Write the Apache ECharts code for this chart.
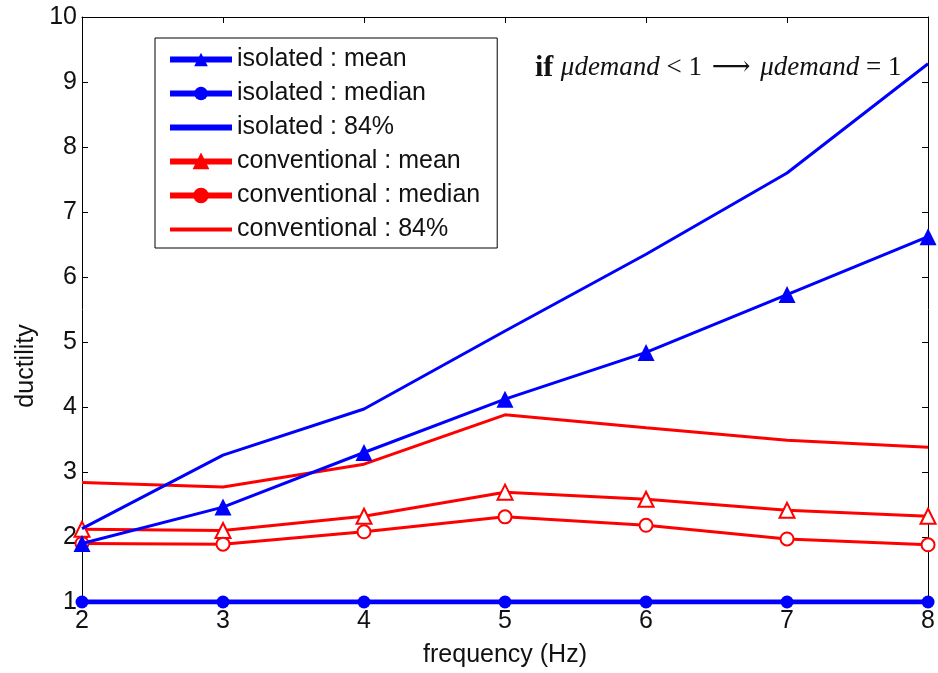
<!DOCTYPE html>
<html>
<head>
<meta charset="utf-8">
<script src="https://cdn.jsdelivr.net/npm/echarts@6/dist/echarts.min.js"></script>
<style>html,body{margin:0;padding:0;background:#fff;}#c{width:938px;height:673px;}</style>
</head>
<body>
<div id="c"></div>
<script>
const frequencies = [2, 3, 4, 5, 6, 7, 8];
const isolatedMean = [1.9, 2.46, 3.3, 4.12, 4.84, 5.73, 6.62];
const isolatedMedian = [1, 1, 1, 1, 1, 1, 1];
const isolated84 = [2.13, 3.26, 3.97, 5.17, 6.35, 7.6, 9.28];
const conventionalMean = [2.12, 2.1, 2.32, 2.69, 2.58, 2.41, 2.32];
const conventionalMedian = [1.9, 1.89, 2.08, 2.31, 2.18, 1.97, 1.88];
const conventional84 = [2.84, 2.77, 3.12, 3.88, 3.68, 3.49, 3.38];
const xTicks = [2, 3, 4, 5, 6, 7, 8];
const yTicks = [1, 2, 3, 4, 5, 6, 7, 8, 9, 10];
const seriesNames = ['isolated : mean', 'isolated : median', 'isolated : 84%',
  'conventional : mean', 'conventional : median', 'conventional : 84%'];

const pairs = vals => frequencies.map((f, i) => [f, vals[i]]);
const BLUE = '#0000ff', RED = '#ff0000';
const FONT = 'Liberation Sans, Arial, sans-serif';
const FS = 25;
const TRANSPARENT = 'rgba(0,0,0,0)';

const chart = echarts.init(document.getElementById('c'), null, {renderer: 'canvas'});

const axisCommon = {
  type: 'value', min: xTicks[0], max: xTicks[xTicks.length - 1], interval: 1,
  splitLine: {show: false},
  axisLine: {show: true, lineStyle: {color: '#000', width: 1}},
  axisTick: {show: true, inside: true, length: 6, lineStyle: {color: '#000'}}
};
const yCommon = {
  type: 'value', min: yTicks[0], max: yTicks[yTicks.length - 1], interval: 1,
  splitLine: {show: false},
  axisLine: {show: true, lineStyle: {color: '#000', width: 1}},
  axisTick: {show: true, inside: true, length: 6, lineStyle: {color: '#000'}}
};

chart.setOption({
  animation: false,
  backgroundColor: '#fff',
  grid: {left: 82, right: 8, top: 17, bottom: 68, containLabel: false},
  xAxis: [
    Object.assign({}, axisCommon, {
      position: 'bottom',
      name: 'frequency (Hz)', nameLocation: 'middle', nameGap: 41,
      nameTextStyle: {fontFamily: FONT, fontSize: FS, color: '#111'},
      axisLabel: {fontFamily: FONT, fontSize: FS, color: '#111', margin: 7}
    }),
    Object.assign({}, axisCommon, {position: 'top', axisLabel: {show: false}})
  ],
  yAxis: [
    Object.assign({}, yCommon, {
      position: 'left',
      axisLabel: {fontFamily: FONT, fontSize: FS, color: '#111', margin: 5}
    }),
    Object.assign({}, yCommon, {position: 'right', axisLabel: {show: false}})
  ],
  legend: {
    left: 155, top: 38, orient: 'vertical',
    selectedMode: false,
    backgroundColor: '#fff', borderColor: '#000', borderWidth: 1,
    padding: [9, 17, 6, 12],
    itemWidth: 62, itemHeight: 17, itemGap: 9,
    textStyle: {fontFamily: FONT, fontSize: FS, color: '#111'},
    data: [
      {name: seriesNames[0], lineStyle: {width: 6}},
      {name: seriesNames[1], lineStyle: {width: 6}},
      {name: seriesNames[2], lineStyle: {width: 6}, itemStyle: {color: TRANSPARENT, borderColor: TRANSPARENT, borderWidth: 0}},
      {name: seriesNames[3], lineStyle: {width: 6}, itemStyle: {color: RED}},
      {name: seriesNames[4], lineStyle: {width: 6}, itemStyle: {color: RED}},
      {name: seriesNames[5], lineStyle: {width: 4}, itemStyle: {color: TRANSPARENT, borderColor: TRANSPARENT, borderWidth: 0}}
    ]
  },
  graphic: [
    {
      type: 'text', left: 535, top: 53,
      style: {
        text: '{b|if }{i|μdemand}{n| < 1 }{a|⟶}{n| }{i|μdemand}{n| = 1}',
        rich: {
          b: {fontFamily: 'Liberation Serif, serif', fontWeight: 'bold', fontSize: 30, fill: '#111'},
          i: {fontFamily: 'Liberation Serif, serif', fontStyle: 'italic', fontSize: 27, fill: '#111'},
          n: {fontFamily: 'Liberation Serif, serif', fontSize: 27, fill: '#111'},
          a: {fontFamily: 'DejaVu Serif, serif', fontSize: 27, fill: '#111', padding: [0, 3, 0, 3]}
        }
      }
    },
    {
      type: 'text', x: 26, y: 366, rotation: Math.PI / 2,
      style: {text: 'ductility', fontFamily: FONT, fontSize: FS, fill: '#111', align: 'center', verticalAlign: 'middle'}
    }
  ],
  series: [
    {
      name: seriesNames[0], type: 'line', data: pairs(isolatedMean),
      symbol: 'triangle', symbolSize: 17,
      lineStyle: {color: BLUE, width: 3}, itemStyle: {color: BLUE}, z: 4
    },
    {
      name: seriesNames[1], type: 'line', data: pairs(isolatedMedian),
      symbol: 'circle', symbolSize: 13,
      lineStyle: {color: BLUE, width: 5}, itemStyle: {color: BLUE}, z: 4
    },
    {
      name: seriesNames[2], type: 'line', data: pairs(isolated84),
      symbol: 'circle', showSymbol: false,
      lineStyle: {color: BLUE, width: 3}, itemStyle: {color: BLUE}, z: 4
    },
    {
      name: seriesNames[3], type: 'line', data: pairs(conventionalMean),
      symbol: 'triangle', symbolSize: 15,
      lineStyle: {color: RED, width: 3}, itemStyle: {color: '#fff', borderColor: RED, borderWidth: 2}, z: 3
    },
    {
      name: seriesNames[4], type: 'line', data: pairs(conventionalMedian),
      symbol: 'circle', symbolSize: 13,
      lineStyle: {color: RED, width: 3}, itemStyle: {color: '#fff', borderColor: RED, borderWidth: 2}, z: 3
    },
    {
      name: seriesNames[5], type: 'line', data: pairs(conventional84),
      symbol: 'circle', symbolSize: 6, showSymbol: false,
      lineStyle: {color: RED, width: 3}, itemStyle: {color: RED}, z: 3
    }
  ]
});
</script>
</body>
</html>
